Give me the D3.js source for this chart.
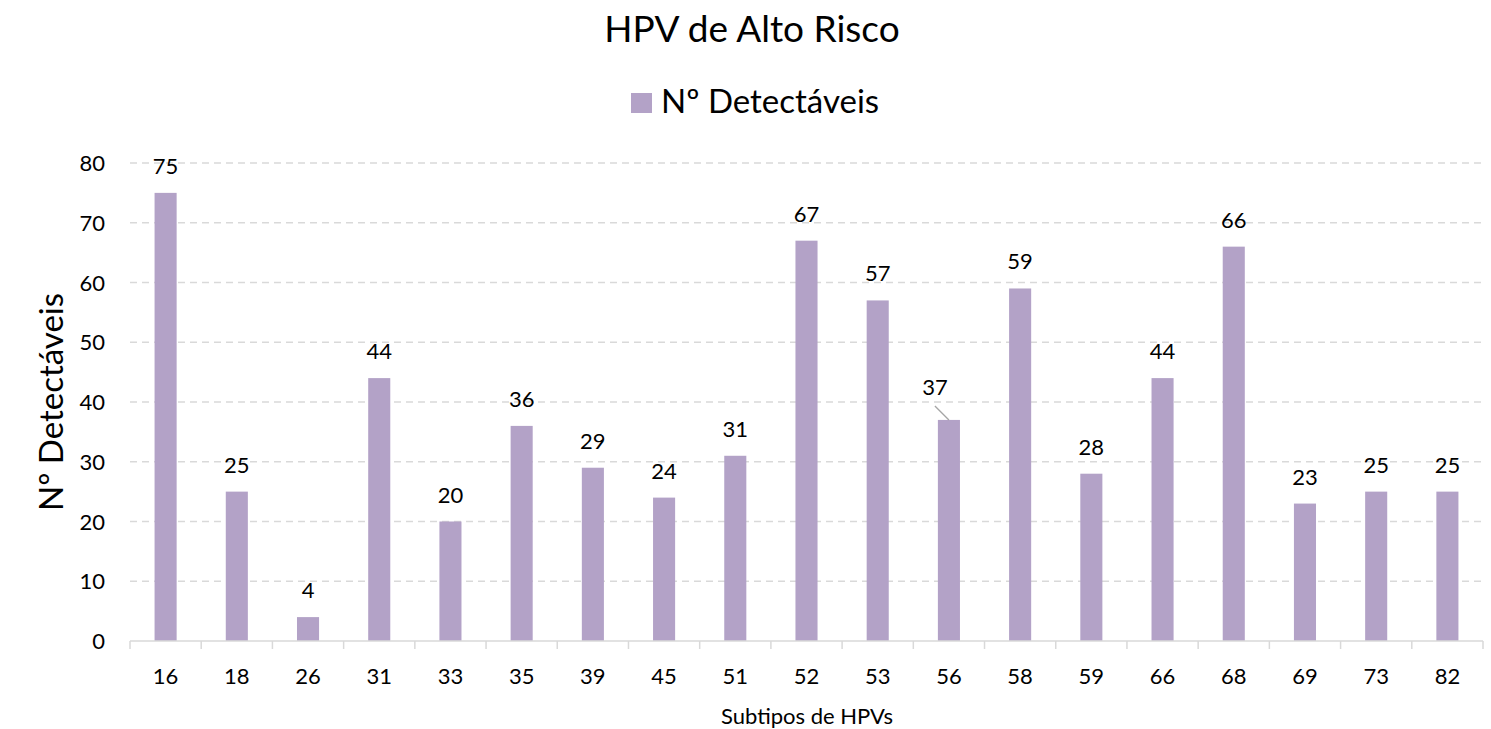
<!DOCTYPE html>
<html>
<head>
<meta charset="utf-8">
<script src="https://cdnjs.cloudflare.com/ajax/libs/d3/7.8.5/d3.min.js"></script>
<style>
  body { margin: 0; background: #fff; }
  text { font-family: Lato, "Open Sans", sans-serif; fill: #000; }
</style>
</head>
<body>
<div class="main"></div>
<script>
// Data
let subtypes = ["16","18","26","31","33","35","39","45","51","52","53","56","58","59","66","68","69","73","82"];
let detectaveis = [75,25,4,44,20,36,29,24,31,67,57,37,59,28,44,66,23,25,25];
let y_ticks = [0,10,20,30,40,50,60,70,80];

let width = 1491, height = 729;
let bar_color = "#b3a2c7";
let grid_color = "#d9d9d9";

let svg = d3.select("div.main").append("svg")
    .attr("width", width)
    .attr("height", height);

// Plot area
let plot_left = 130, plot_right = 1483, plot_top = 163, plot_bottom = 641;

let x = d3.scaleBand()
    .domain(subtypes)
    .range([plot_left, plot_right])
    .paddingInner(0.69)
    .paddingOuter(0.345);

let y = d3.scaleLinear()
    .domain([0, 80])
    .range([plot_bottom, plot_top]);

// Gridlines
svg.append("g")
    .selectAll("line")
    .data(y_ticks.filter(d => d > 0))
    .enter().append("line")
    .attr("x1", plot_left).attr("x2", plot_right)
    .attr("y1", d => y(d)).attr("y2", d => y(d))
    .attr("stroke", grid_color)
    .attr("stroke-width", 1.3)
    .attr("stroke-dasharray", "7,5");

// Y tick labels
svg.append("g")
    .selectAll("text")
    .data(y_ticks)
    .enter().append("text")
    .attr("x", 105)
    .attr("y", d => y(d) + 8)
    .attr("text-anchor", "end")
    .style("font-size", "22px")
    .text(d => d);

// Bars
svg.append("g")
    .selectAll("rect")
    .data(subtypes)
    .enter().append("rect")
    .attr("x", d => x(d))
    .attr("width", x.bandwidth())
    .attr("y", (d, i) => y(detectaveis[i]))
    .attr("height", (d, i) => plot_bottom - y(detectaveis[i]))
    .attr("fill", bar_color);

// X axis line and ticks
svg.append("line")
    .attr("x1", plot_left).attr("x2", plot_right)
    .attr("y1", plot_bottom).attr("y2", plot_bottom)
    .attr("stroke", grid_color)
    .attr("stroke-width", 1.5);

let tick_pos = d3.range(subtypes.length + 1).map(i => plot_left + i * (plot_right - plot_left) / subtypes.length);
svg.append("g")
    .selectAll("line")
    .data(tick_pos)
    .enter().append("line")
    .attr("x1", d => d).attr("x2", d => d)
    .attr("y1", plot_bottom).attr("y2", plot_bottom + 8)
    .attr("stroke", grid_color)
    .attr("stroke-width", 1.5);

// X tick labels
svg.append("g")
    .selectAll("text")
    .data(subtypes)
    .enter().append("text")
    .attr("x", d => x(d) + x.bandwidth() / 2)
    .attr("y", 684)
    .attr("text-anchor", "middle")
    .style("font-size", "22px")
    .text(d => d);

// Data labels (56 has its label moved with a leader line)
svg.append("g")
    .selectAll("text")
    .data(subtypes)
    .enter().append("text")
    .attr("x", (d, i) => d == "56" ? x(d) + x.bandwidth() / 2 - 14 : x(d) + x.bandwidth() / 2)
    .attr("y", (d, i) => d == "56" ? y(detectaveis[i]) - 25 : y(detectaveis[i]) - 19)
    .attr("text-anchor", "middle")
    .style("font-size", "22px")
    .text((d, i) => detectaveis[i]);

let i56 = subtypes.indexOf("56");
svg.append("line")
    .attr("x1", x("56") + x.bandwidth() / 2 - 14)
    .attr("y1", y(detectaveis[i56]) - 14)
    .attr("x2", x("56") + x.bandwidth() / 2)
    .attr("y2", y(detectaveis[i56]))
    .attr("stroke", "#a6a6a6")
    .attr("stroke-width", 1.3);

// Title
svg.append("text")
    .attr("x", 752)
    .attr("y", 42)
    .attr("text-anchor", "middle")
    .style("font-size", "37px")
    .text("HPV de Alto Risco");

// Legend
svg.append("rect")
    .attr("x", 631).attr("y", 93)
    .attr("width", 21).attr("height", 20)
    .attr("fill", bar_color);
svg.append("text")
    .attr("x", 661)
    .attr("y", 113)
    .style("font-size", "33px")
    .text("Nº Detectáveis");

// Axis titles
svg.append("text")
    .attr("transform", "translate(63,402) rotate(-90)")
    .attr("text-anchor", "middle")
    .style("font-size", "33px")
    .text("Nº Detectáveis");

svg.append("text")
    .attr("x", 807)
    .attr("y", 724)
    .attr("text-anchor", "middle")
    .style("font-size", "22px")
    .text("Subtipos de HPVs");
</script>
</body>
</html>
